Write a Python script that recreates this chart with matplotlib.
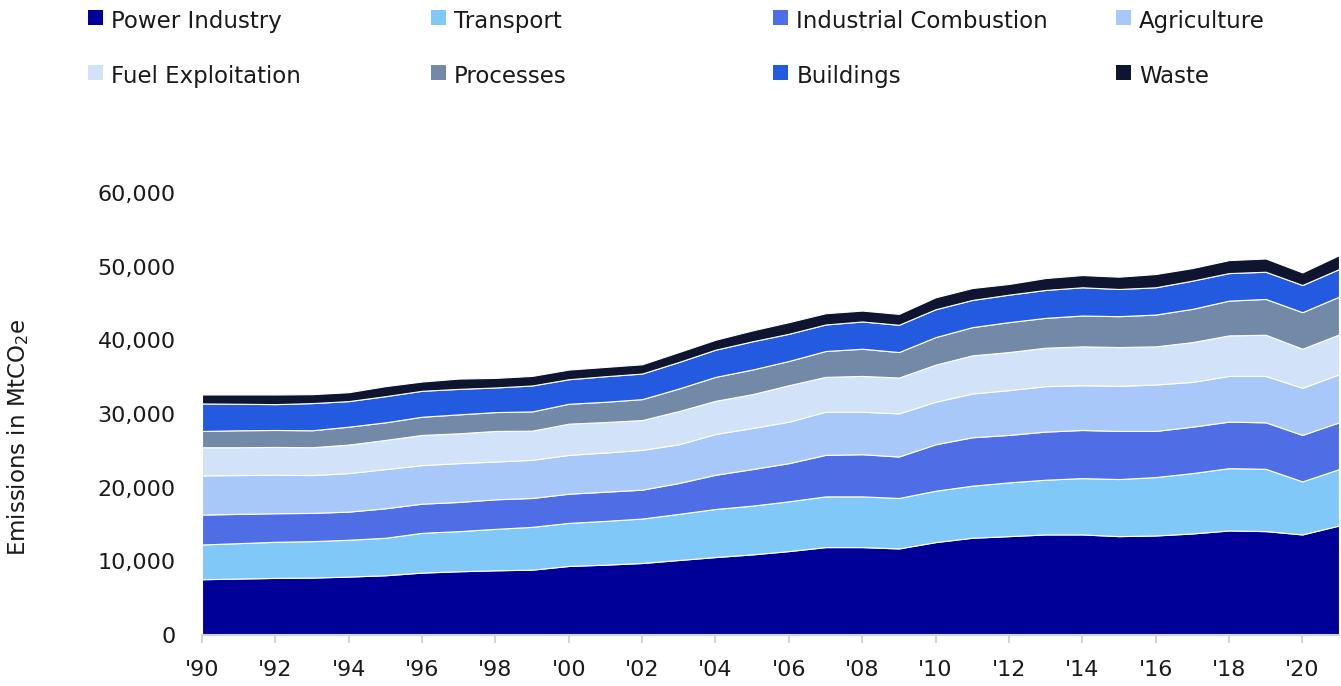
import matplotlib.pyplot as plt
from matplotlib.patches import Rectangle

plt.rcParams['font.family'] = ['DejaVu Sans']
plt.rcParams['mathtext.fontset'] = 'dejavusans'

years = list(range(1990, 2022))

# emissions by sector, MtCO2e
power_industry = [7570, 7660, 7750, 7790, 7930, 8110, 8470, 8650, 8780, 8870,
                  9370, 9550, 9770, 10180, 10580, 10940, 11390, 11930, 11930, 11750,
                  12610, 13200, 13420, 13650, 13650, 13420, 13510, 13780, 14190, 14100,
                  13650, 14860]
transport = [4720, 4810, 4900, 4950, 5000, 5090, 5400, 5450, 5630, 5810,
             5850, 5940, 6040, 6260, 6530, 6620, 6760, 6890, 6890, 6850,
             6980, 7070, 7300, 7430, 7650, 7750, 7930, 8200, 8460, 8460,
             7200, 7660]
industrial_combustion = [4060, 3970, 3880, 3830, 3820, 4000, 3960, 3960, 4010, 3920,
                         3960, 3960, 3920, 4190, 4640, 4960, 5180, 5630, 5720, 5630,
                         6300, 6570, 6440, 6530, 6530, 6530, 6260, 6300, 6310, 6310,
                         6310, 6350]
agriculture = [5310, 5270, 5220, 5140, 5230, 5320, 5230, 5270, 5130, 5180,
               5270, 5320, 5400, 5260, 5540, 5580, 5630, 5860, 5770, 5850,
               5770, 5940, 6080, 6170, 6080, 6120, 6300, 6080, 6210, 6300,
               6390, 6530]
fuel_exploitation = [3830, 3780, 3780, 3780, 3870, 3960, 4100, 4050, 4150, 3960,
                     4240, 4140, 4050, 4510, 4500, 4590, 4950, 4730, 4860, 4870,
                     5040, 5180, 5170, 5220, 5270, 5270, 5180, 5400, 5500, 5590,
                     5310, 5400]
processes = [2210, 2300, 2300, 2300, 2430, 2390, 2470, 2570, 2560, 2610,
             2700, 2750, 2840, 3060, 3250, 3340, 3290, 3510, 3690, 3460,
             3740, 3830, 4060, 4050, 4190, 4190, 4320, 4510, 4720, 4860,
             4960, 5130]
buildings = [3730, 3600, 3510, 3690, 3470, 3550, 3520, 3460, 3340, 3520,
             3330, 3470, 3470, 3600, 3690, 3830, 3690, 3600, 3700, 3700,
             3780, 3690, 3730, 3790, 3830, 3690, 3700, 3830, 3740, 3690,
             3690, 3740]
waste = [1220, 1260, 1310, 1210, 1210, 1360, 1260, 1400, 1300, 1300,
         1310, 1260, 1260, 1350, 1350, 1480, 1580, 1530, 1480, 1480,
         1620, 1620, 1450, 1620, 1660, 1670, 1800, 1710, 1760, 1800,
         1710, 1890]

sectors = ['Power Industry', 'Transport', 'Industrial Combustion', 'Agriculture',
           'Fuel Exploitation', 'Processes', 'Buildings', 'Waste']
colors = ['#000099', '#7fc8f8', '#4f6de4', '#a8c8fa',
          '#d2e2f9', '#7389a8', '#235ae0', '#0f1530']

text_color = '#1a1a1a'
grid_grey = '#d3d3d3'

fig = plt.figure(figsize=(13.41, 6.86), dpi=100)
W, H = 1341, 686
ax = fig.add_axes([202 / W, 51 / H, 1137 / W, 442 / H])

ax.stackplot(years, power_industry, transport, industrial_combustion, agriculture,
             fuel_exploitation, processes, buildings, waste,
             colors=colors, edgecolor='white', linewidth=0.8)

ax.set_xlim(1990, 2021)
ax.set_ylim(0, 60000)

ax.set_xticks(years[::2])
ax.set_xticklabels(["'" + str(y)[2:] for y in years[::2]])
ax.set_yticks(range(0, 60001, 10000))
ax.set_yticklabels([f'{v:,}' for v in range(0, 60001, 10000)])

ax.tick_params(axis='x', length=6, width=1.5, color=grid_grey, pad=12,
               labelsize=16, labelcolor=text_color)
ax.tick_params(axis='y', length=0, pad=19, labelsize=16, labelcolor=text_color)

for side in ['top', 'right', 'left']:
    ax.spines[side].set_visible(False)
ax.spines['bottom'].set_color(grid_grey)
ax.spines['bottom'].set_linewidth(1.5)

fig.text(18 / W, 1 - 437 / H, 'Emissions in MtCO$_2$e', rotation=90,
         ha='center', va='center', fontsize=16.5, color=text_color)

# legend: two rows of four
for i, (name, c) in enumerate(zip(sectors, colors)):
    row, col = divmod(i, 4)
    x0 = 88 + 342.7 * col
    y_top = 10 + 55 * row
    fig.patches.append(Rectangle((x0 / W, 1 - (y_top + 15) / H), 15 / W, 15 / H,
                                 transform=fig.transFigure, facecolor=c,
                                 edgecolor='none'))
    fig.text((x0 + 23) / W, 1 - (y_top + 18) / H, name, ha='left',
             va='baseline', fontsize=16.5, color=text_color)

fig.savefig('out.png', dpi=100)
